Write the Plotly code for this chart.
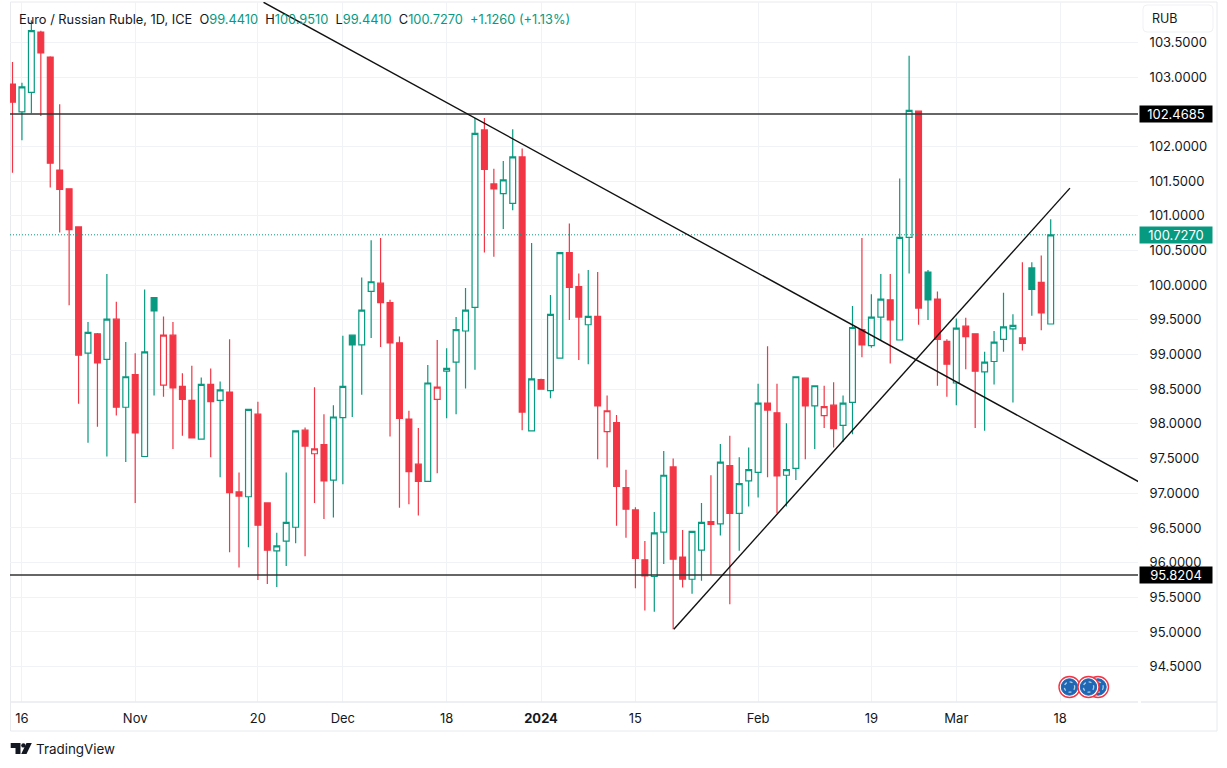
import plotly.graph_objects as go

# daily candles, EUR/RUB
opens = [102.90, 102.50, 102.78, 103.65, 103.29, 101.66, 101.39, 100.84, 99.02, 99.30,
         98.93, 99.51, 98.24, 98.71, 97.53, 99.82, 98.56, 99.28, 98.54, 98.34,
         97.78, 98.57, 98.34, 98.46, 97.02, 96.95, 98.14, 96.86, 96.17, 96.31,
         96.51, 97.91, 97.57, 97.70, 97.19, 98.09, 99.28, 99.14, 99.91, 100.03,
         99.75, 99.17, 98.07, 97.42, 97.17, 98.355, 98.76, 98.89, 99.34, 99.68,
         102.24, 101.46, 101.32, 101.18, 101.85, 97.90, 98.64, 98.48, 98.95, 100.47,
         99.98, 99.43, 99.55, 97.89, 98.02, 97.08, 96.76, 96.04, 95.80, 96.44,
         97.38, 96.08, 95.76, 96.18, 96.59, 96.56, 97.40, 96.71, 97.18, 97.30,
         98.30, 98.16, 97.26, 97.36, 98.66, 98.26, 98.12, 98.27, 97.98, 98.31,
         99.36, 99.13, 99.54, 99.79, 99.21, 100.69, 102.51, 100.19, 99.80, 99.19,
         98.59, 99.41, 99.30, 98.75, 98.90, 99.22, 99.37, 99.24, 100.25, 100.04, 99.441]
highs = [103.22, 102.92, 103.82, 103.67, 103.30, 102.61, 101.40, 100.84, 99.47, 99.31,
         100.16, 99.76, 99.18, 99.02, 99.94, 99.83, 99.55, 99.47, 98.73, 98.84,
         98.67, 98.80, 98.61, 99.22, 97.30, 98.21, 98.32, 96.86, 96.43, 97.30,
         97.90, 97.95, 98.53, 98.14, 98.27, 99.27, 99.28, 100.11, 100.65, 100.68,
         99.79, 99.26, 98.19, 97.94, 98.85, 99.21, 99.09, 99.54, 99.96, 102.41,
         102.41, 101.68, 101.79, 102.25, 101.97, 100.61, 98.65, 99.86, 100.47, 100.89,
         100.17, 100.22, 100.19, 98.41, 98.13, 97.34, 96.80, 96.31, 96.73, 97.61,
         97.50, 96.47, 96.45, 96.86, 97.26, 97.71, 97.83, 97.52, 97.66, 98.58,
         99.12, 98.58, 98.01, 98.68, 98.66, 98.55, 98.55, 98.60, 98.41, 99.70,
         100.68, 99.87, 100.16, 100.16, 101.54, 103.31, 102.51, 100.22, 99.91, 99.22,
         99.52, 99.53, 99.30, 99.04, 99.34, 99.89, 99.58, 100.33, 100.33, 100.43, 100.951]
lows = [101.62, 102.09, 102.48, 102.44, 101.41, 100.76, 99.71, 98.29, 97.73, 97.96,
        97.53, 98.12, 97.45, 96.86, 97.53, 98.41, 98.39, 97.64, 97.83, 97.80,
        97.78, 97.52, 97.23, 96.15, 95.93, 96.22, 95.75, 95.69, 95.65, 95.95,
        96.28, 96.09, 96.86, 96.63, 96.65, 97.13, 98.10, 98.42, 99.24, 99.11,
        97.82, 96.79, 96.84, 96.68, 97.17, 97.29, 98.08, 98.14, 98.51, 98.78,
        100.47, 100.41, 100.81, 101.08, 97.91, 97.90, 98.50, 98.37, 98.95, 99.50,
        98.92, 98.86, 97.49, 97.37, 96.53, 96.36, 95.63, 95.31, 95.29, 95.98,
        95.04, 95.64, 95.55, 95.74, 95.82, 96.39, 95.40, 96.17, 96.81, 96.94,
        97.23, 96.71, 96.81, 97.19, 97.49, 97.64, 97.94, 97.66, 97.74, 97.85,
        98.96, 99.10, 99.21, 98.87, 99.21, 100.17, 99.43, 99.50, 98.55, 98.39,
        98.27, 98.79, 97.94, 97.90, 98.57, 99.04, 98.31, 99.06, 99.56, 99.35, 99.441]
closes = [102.64, 102.86, 103.67, 103.35, 101.76, 101.38, 100.80, 98.99, 99.32, 98.88,
          99.51, 98.24, 98.68, 97.87, 99.04, 99.63, 99.28, 98.52, 98.355, 97.80,
          98.57, 98.32, 98.49, 97.01, 96.96, 98.21, 96.54, 96.18, 96.24, 96.58,
          97.90, 97.68, 97.64, 97.18, 98.10, 98.54, 99.14, 99.64, 100.05, 99.75,
          99.17, 98.08, 97.31, 97.17, 98.59, 98.53, 98.80, 99.36, 99.64, 102.19,
          101.67, 101.39, 101.52, 101.85, 98.17, 98.65, 98.50, 99.58, 100.47, 99.97,
          99.54, 99.55, 98.26, 98.19, 97.10, 96.77, 96.06, 95.81, 96.43, 97.26,
          96.05, 95.76, 96.45, 96.58, 96.55, 97.45, 96.71, 97.14, 97.34, 98.30,
          98.20, 97.25, 97.34, 98.68, 98.26, 98.55, 98.25, 97.93, 98.30, 99.39,
          99.14, 99.54, 99.80, 99.50, 100.69, 102.52, 99.67, 99.79, 99.22, 98.86,
          99.38, 99.26, 98.76, 98.89, 99.18, 99.40, 99.42, 99.16, 99.94, 99.60, 100.727]
# candles TradingView colours red although the body is hollow, or green although filled
hollow_red = [16, 32, 45, 63, 86]
filled_green = [15, 36, 97, 108]

tick_pos = [1, 13, 26, 35, 46, 56, 66, 79, 91, 100, 111]
tick_text = ["16", "Nov", "20", "Dec", "18", "<b>2024</b>", "15", "Feb", "19", "Mar", "18"]
# 96.0000 sits half under the 95.8204 tag in the reference too, so it is drawn clipped by the tag
price_ticks = [94.5, 95.0, 95.5, 96.0, 96.5, 97.0, 97.5, 98.0, 98.5, 99.0, 99.5,
               100.0, 100.5, 101.0, 101.5, 102.0, 103.0, 103.5]

level_high = 102.4685
level_low = 95.8204
last_price = 100.727

down_trend_x = [26.6, 119.4]
down_trend_y = [104.08, 97.16]
up_trend_x = [70.07, 112.04]
up_trend_y = [95.04, 101.40]

GREEN = "#089981"
RED = "#F23645"
INK = "#131722"
GRID = "#F1F2F5"
FRAME = "#E9EAEE"
X_MIN, X_MAX = -0.265, 119.25
Y_MIN, Y_MAX = 93.99, 104.084
LEFT, RIGHT, TOP, BOTTOM = 10, 1138, 2, 702


# page pixels to paper coordinates, for everything that is not data
def fx(px):
    return (px - LEFT) / (RIGHT - LEFT)


def fy(py):
    return (BOTTOM - py) / (BOTTOM - TOP)


def path(points):
    return "M " + " L ".join(f"{fx(a):.5f},{fy(b):.5f}" for a, b in points) + " Z"


def is_red(i):
    if i in hollow_red:
        return True
    if i in filled_green:
        return False
    return closes[i] < opens[i]


def candles(idx, color):
    return go.Candlestick(
        x=idx,
        open=[opens[i] for i in idx],
        high=[highs[i] for i in idx],
        low=[lows[i] for i in idx],
        close=[closes[i] for i in idx],
        whiskerwidth=0,
        showlegend=False,
        increasing=dict(line=dict(color=color, width=1.2), fillcolor="white"),
        decreasing=dict(line=dict(color=color, width=1.2), fillcolor=color),
    )


all_idx = list(range(len(opens)))
fig = go.Figure()
fig.add_trace(candles([i for i in all_idx if not is_red(i)], GREEN))
fig.add_trace(candles([i for i in all_idx if is_red(i)], RED))


def line(x, y, color="#111111", width=1.4, dash="solid"):
    fig.add_trace(go.Scatter(x=x, y=y, mode="lines", showlegend=False, hoverinfo="skip",
                             line=dict(color=color, width=width, dash=dash)))


line([X_MIN, X_MAX], [last_price, last_price], color=GREEN, width=1, dash="1px,2px")
line([X_MIN, X_MAX], [level_high, level_high], color="#333333", width=1.5)
line([X_MIN, X_MAX], [level_low, level_low], color="#333333", width=1.5)
line(down_trend_x, down_trend_y)
line(up_trend_x, up_trend_y)

shapes = [
    # chart frame and separators
    dict(type="rect", xref="paper", yref="paper", x0=fx(10.5), x1=fx(1217), y0=fy(731), y1=fy(2),
         line=dict(color=FRAME, width=1), layer="below"),
    dict(type="line", xref="paper", yref="paper", x0=fx(10.5), x1=fx(1138), y0=fy(702), y1=fy(702),
         line=dict(color=FRAME, width=1.5)),
    dict(type="line", xref="paper", yref="paper", x0=fx(1141), x1=fx(1217), y0=fy(702), y1=fy(702),
         line=dict(color=FRAME, width=1.5)),
    # RUB button
    dict(type="path", xref="paper", yref="paper", line=dict(color="#F0F1F4", width=1),
         path=f"M {fx(1147)},{fy(5)} L {fx(1209)},{fy(5)} Q {fx(1213)},{fy(5)} {fx(1213)},{fy(9)} "
              f"L {fx(1213)},{fy(28)} Q {fx(1213)},{fy(32)} {fx(1209)},{fy(32)} "
              f"L {fx(1147)},{fy(32)} Q {fx(1143)},{fy(32)} {fx(1143)},{fy(28)} "
              f"L {fx(1143)},{fy(9)} Q {fx(1143)},{fy(5)} {fx(1147)},{fy(5)} Z"),
    # TradingView logo
    dict(type="path", xref="paper", yref="paper", fillcolor=INK, line=dict(width=0),
         path=path([(10.7, 743), (20.5, 743), (20.5, 754), (15.5, 754), (15.5, 748), (10.7, 748)])),
    dict(type="circle", xref="paper", yref="paper", fillcolor=INK, line=dict(width=0),
         x0=fx(21.2), x1=fx(25.6), y0=fy(747.6), y1=fy(743.2)),
    dict(type="path", xref="paper", yref="paper", fillcolor=INK, line=dict(width=0),
         path=path([(26.5, 743), (31.8, 743), (26.5, 754), (21.2, 754)])),
]

# EU flag event markers under the bars
for cx in [1098, 1069.5, 1088.5]:
    for r, fill, edge, w, dash in [(10.5, "white", RED, 1.4, "solid"),
                                   (8.2, "#1F66B5", "#1F66B5", 1, "solid"),
                                   (5.2, "rgba(0,0,0,0)", "#A9CFE0", 1.3, "dot")]:
        shapes.append(dict(type="circle", xref="paper", yref="paper", fillcolor=fill,
                           line=dict(color=edge, width=w, dash=dash),
                           x0=fx(cx - r), x1=fx(cx + r), y0=fy(687 + r), y1=fy(687 - r)))


def tag(price, color):
    return dict(xref="paper", yref="y", x=fx(1139), y=price, xanchor="left", yanchor="middle",
                text=f"{price:.4f}", showarrow=False, bgcolor=color, width=70, height=14,
                font=dict(family="Inter", size=13, color="white"), align="center")


legend_text = (
    f'Euro / Russian Ruble, 1D, ICE  '
    f'O<span style="color:{GREEN}">99.4410</span>  '
    f'H<span style="color:{GREEN}">100.9510</span>  '
    f'L<span style="color:{GREEN}">99.4410</span>  '
    f'C<span style="color:{GREEN}">100.7270</span>  '
    f'<span style="color:{GREEN}">+1.1260 (+1.13%)</span>'
)

annotations = [
    dict(xref="paper", yref="paper", x=fx(17), y=fy(19.5), xanchor="left", yanchor="middle",
         text=legend_text, showarrow=False, font=dict(family="Inter", size=12.8, color=INK)),
    dict(xref="paper", yref="paper", x=fx(1150), y=fy(18.5), xanchor="left", yanchor="middle",
         text="RUB", showarrow=False, font=dict(family="Inter", size=12.5, color=INK)),
    dict(xref="paper", yref="paper", x=fx(33.5), y=fy(749), xanchor="left", yanchor="middle",
         text="TradingView", showarrow=False, font=dict(family="Inter", size=13.4, color=INK)),
    tag(level_high, "#000000"),
    tag(last_price, GREEN),
    tag(level_low, "#000000"),
]

fig.update_layout(
    width=1227,
    height=768,
    margin=dict(l=LEFT, r=1227 - RIGHT, t=TOP, b=768 - BOTTOM),
    paper_bgcolor="white",
    plot_bgcolor="white",
    showlegend=False,
    boxgap=0.12,
    shapes=shapes,
    annotations=annotations,
    font=dict(family="Inter", size=13, color=INK),
    hovermode=False,
    dragmode=False,
    xaxis=dict(
        range=[X_MIN, X_MAX],
        rangeslider=dict(visible=False),
        tickmode="array",
        tickvals=tick_pos,
        ticktext=tick_text,
        showgrid=True,
        gridcolor=GRID,
        gridwidth=1,
        zeroline=False,
        showline=False,
        ticks="outside",
        ticklen=4,
        tickcolor="rgba(0,0,0,0)",
        tickfont=dict(family="Inter", size=13, color=INK),
    ),
    yaxis=dict(
        range=[Y_MIN, Y_MAX],
        side="right",
        tickmode="array",
        tickvals=price_ticks,
        ticktext=[f"{p:.4f}" for p in price_ticks],
        showgrid=True,
        gridcolor=GRID,
        gridwidth=1,
        zeroline=False,
        showline=False,
        ticks="outside",
        ticklen=8,
        tickcolor="rgba(0,0,0,0)",
        tickfont=dict(family="Inter", size=13, color=INK),
    ),
)

fig.write_html("out.html", config=dict(displayModeBar=False),
               post_script="document.body.style.margin='0';")
